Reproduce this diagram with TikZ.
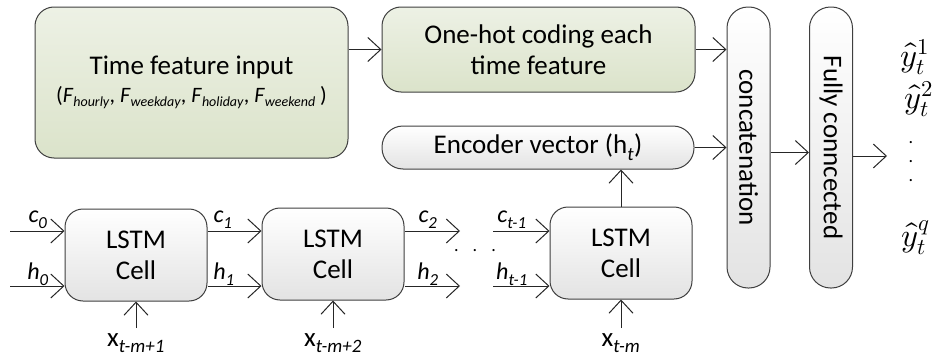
\documentclass[tikz,border=0pt]{standalone}
\usepackage{fontspec}
\usepackage{unicode-math}
\setmainfont{Carlito}
\setmathfont{Latin Modern Math}
\usetikzlibrary{arrows.meta,positioning}
\definecolor{greentop}{HTML}{EDF1E5}
\definecolor{greenbot}{HTML}{DBE3CA}
\definecolor{greybot}{HTML}{E3E3E3}
\definecolor{edge}{HTML}{3F3F3F}
\newcommand{\fsub}[1]{\textit{F}\raisebox{-4pt}{\fontsize{14}{14}\selectfont\textit{#1}}}
\newcommand{\yhat}[1]{\scalebox{1.2}{$\hat{y}_t^{#1}$}}

\begin{document}
\begin{tikzpicture}[x=1pt,y=-1pt,font=\fontsize{27}{31}\selectfont,
  box/.style={draw=edge,line width=1pt,rounded corners=19pt,top color=white,bottom color=greybot,
              inner sep=0pt,align=center},
  featbox/.style={box,top color=greentop,bottom color=greenbot},
  cell/.style={box,minimum width=142pt,minimum height=92pt,rounded corners=18pt},
  bar/.style={box,minimum width=43pt,minimum height=281pt,rounded corners=21pt},
  arrw/.style={-{Straight Barb[length=13pt,width=24pt]},draw=black!85,line width=1pt},
  lbl/.style={font=\fontsize{24}{28}\selectfont\itshape,inner sep=0pt},
  outy/.style={inner sep=0pt}]
\useasboundingbox (0,0) rectangle (935,356);

\node[featbox,minimum width=313pt,minimum height=151pt] (timein) at (191.5,82.5)
  {Time feature input\\[-3pt] {\fontsize{22}{26}\selectfont(\fsub{hourly}, \fsub{weekday},
   \fsub{holiday}, \fsub{weekend} )}};
\node[featbox,minimum width=313pt,minimum height=85pt] (onehot) at (538.5,49.5)
  {One-hot coding each\\ time feature};
\node[box,minimum width=312pt,minimum height=43pt,rounded corners=21pt] (enc) at (538,147.5)
  {Encoder vector (h\textsubscript{\textit{t}})};

\node[bar] (concat) at (748.5,147.5) {};
\node[rotate=-90] (concattxt) at (concat) {concatenation};
\node[bar] (fc) at (831,147.5) {};
\node[rotate=-90] (fctxt) at (fc) {Fully conncected};

\node[cell] (cell1) at (136,255) {LSTM\\ Cell};
\node[cell] (cell2) at (333,254) {LSTM\\ Cell};
\node[cell] (cell3) at (621,253) {LSTM\\ Cell};

% free ends of the recurrent chain
\coordinate (cin) at (10,231);
\coordinate (hin) at (10,286);
\coordinate (cout) at (460,231);
\coordinate (hout) at (460,286);
\coordinate (cback) at (493,231);
\coordinate (hback) at (493,286);
\coordinate (x1) at (136,328);
\coordinate (x2) at (333,328);
\coordinate (x3) at (621,328);
\coordinate (yout) at (887,156);

\draw[arrw] (cin) -- (cin -| cell1.west);
\draw[arrw] (hin) -- (hin -| cell1.west);
\draw[arrw] (cin -| cell1.east) -- (cin -| cell2.west);
\draw[arrw] (hin -| cell1.east) -- (hin -| cell2.west);
\draw[arrw] (cin -| cell2.east) -- (cout);
\draw[arrw] (hin -| cell2.east) -- (hout);
\draw[arrw] (cback) -- (cback -| cell3.west);
\draw[arrw] (hback) -- (hback -| cell3.west);
\draw[arrw] (x1) -- (cell1.south);
\draw[arrw] (x2) -- (cell2.south);
\draw[arrw] (x3) -- (cell3.south);
\draw[arrw] (cell3.north) -- (cell3.north |- enc.south);

\draw[arrw] (timein.east |- onehot.west) -- (onehot.west);
\draw[arrw] (onehot.east) -- (onehot.east -| concat.west);
\draw[arrw] (enc.east) -- (enc.east -| concat.west);
\draw[arrw] ([yshift=-5pt]concat.east) -- ([yshift=-5pt]fc.west);
\draw[arrw] (yout -| fc.east) -- (yout);

\node[lbl] (c0) at (38,220) {c\textsubscript{0}};
\node[lbl] (h0) at (38,274) {h\textsubscript{0}};
\node[lbl] (c1) at (223,220) {c\textsubscript{1}};
\node[lbl] (h1) at (224,274) {h\textsubscript{1}};
\node[lbl] (c2) at (428,220) {c\textsubscript{2}};
\node[lbl] (h2) at (428,274) {h\textsubscript{2}};
\node[lbl] (ct) at (512,220) {c\textsubscript{t-1}};
\node[lbl] (ht) at (512,274) {h\textsubscript{t-1}};
\node[font=\fontsize{18}{20}\selectfont] (dots) at (475,251) {.\hspace{14pt}.\hspace{14pt}.};

\node[inner sep=0pt] (xl1) at (136,343) {x\textsubscript{\textit{t-m+1}}};
\node[inner sep=0pt] (xl2) at (333,343) {x\textsubscript{\textit{t-m+2}}};
\node[inner sep=0pt] (xl3) at (621,343) {x\textsubscript{\textit{t-m}}};

\node[outy] (y1) at (915,57) {\yhat{1}};
\node[outy] (y2) at (919,99) {\yhat{2}};
\node[inner sep=0pt,align=center,font=\fontsize{18}{20}\selectfont] (ydots) at (911,162) {.\\[-1pt].\\[-1pt].};
\node[outy] (yq) at (916,238) {\yhat{q}};
\end{tikzpicture}
\end{document}
